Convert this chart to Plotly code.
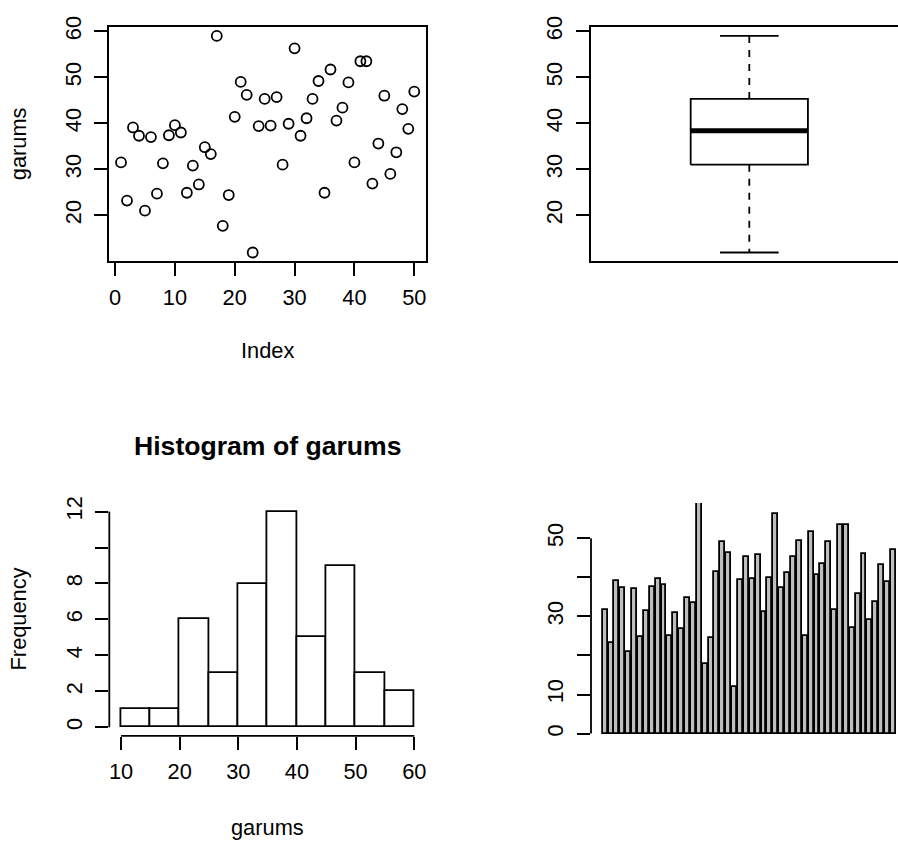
import numpy as np
import plotly.graph_objects as go

# 50 observations of garums, in index order
garums = [31.5, 23.2, 39.1, 37.3, 21.0, 37.0, 24.7, 31.3, 37.4, 39.6,
          38.0, 24.9, 30.8, 26.7, 34.8, 33.3, 59.0, 17.7, 24.4, 41.4,
          49.0, 46.2, 11.9, 39.4, 45.3, 39.5, 45.7, 31.0, 39.9, 56.3,
          37.3, 41.1, 45.3, 49.2, 24.9, 51.7, 40.6, 43.4, 48.9, 31.5,
          53.5, 53.5, 26.9, 35.6, 46.0, 29.0, 33.7, 43.1, 38.8, 46.9]
index = list(range(1, len(garums) + 1))

# axis ticks and labels
index_ticks = [0, 10, 20, 30, 40, 50]
value_ticks = [20, 30, 40, 50, 60]
hist_breaks = [10, 60, 5]  # start, end, bin width
hist_x_ticks = [10, 20, 30, 40, 50, 60]
freq_ticks = [0, 2, 4, 6, 8, 10, 12]
freq_labels = ["0", "2", "4", "6", "8", "", "12"]
bar_ticks = [0, 10, 20, 30, 40, 50]
bar_labels = ["0", "10", "", "30", "", "50"]

W, H = 898, 842
FONT = "Liberation Sans, Arial, Helvetica, sans-serif"
FS = 21.8
TITLE_FS = 26.6
LW = 1.8
TICKLEN = 13
X_STANDOFF = 3
Y_STANDOFF = 5

# plot regions in px; the right column runs past the page edge
LEFT_COL = (109.3, 426.0)
RIGHT_COL = (591.0, 907.6)
TOP_ROW = (16.5, 253.5)
BOT_ROW = (498.5, 734.5)


def xdom(col):
    l, r = col
    return [l / W, min(r, W) / W]


def ydom(row):
    t, b = row
    return [1 - b / H, 1 - t / H]


def visible(rng, col):
    """Clip a data range to the part of the column that fits on the page."""
    lo, hi = rng
    l, r = col
    frac = (min(r, W) - l) / (r - l)
    return [lo, lo + (hi - lo) * frac]


def pad(lo, hi, f=0.04):
    d = (hi - lo) * f
    return [lo - d, hi + d]


def fivenum(v):
    x = np.sort(np.asarray(v, float))
    n = len(x)
    n4 = np.floor((n + 3) / 2) / 2
    d = np.array([1, n4, (n + 1) / 2, n + 1 - n4, n])
    return 0.5 * (x[(np.floor(d) - 1).astype(int)] + x[(np.ceil(d) - 1).astype(int)])


vals = np.asarray(garums, float)
vmin, vmax = float(vals.min()), float(vals.max())
value_range = pad(vmin, vmax)

# boxplot statistics (Tukey hinges, 1.5 IQR whiskers)
_, q1, med, q3, _ = fivenum(vals)
iqr = q3 - q1
lo_whisk = float(vals[vals >= q1 - 1.5 * iqr].min())
hi_whisk = float(vals[vals <= q3 + 1.5 * iqr].max())
BOX_C, BOX_HALF, STAPLE_HALF = 1.0, 0.2, 0.1

# histogram counts (for the axis extent)
edges = np.arange(hist_breaks[0], hist_breaks[1] + hist_breaks[2], hist_breaks[2])
counts, _ = np.histogram(vals, bins=edges)

# barplot positions: width 1, space 0.2
bar_x = [1.2 * i - 0.5 for i in index]

fig = go.Figure()

# --- index plot
fig.add_trace(go.Scatter(
    x=index, y=garums, mode="markers", xaxis="x", yaxis="y",
    marker=dict(symbol="circle-open", size=10, color="black", line=dict(width=LW)),
    showlegend=False, hoverinfo="skip"))

# --- boxplot
line_k = dict(color="black", width=LW)
fig.add_trace(go.Scatter(
    x=[BOX_C - BOX_HALF, BOX_C + BOX_HALF, BOX_C + BOX_HALF, BOX_C - BOX_HALF, BOX_C - BOX_HALF],
    y=[q1, q1, q3, q3, q1], mode="lines", fill="toself", fillcolor="white",
    line=line_k, xaxis="x2", yaxis="y2", showlegend=False, hoverinfo="skip"))
fig.add_trace(go.Scatter(
    x=[BOX_C - BOX_HALF, BOX_C + BOX_HALF], y=[med, med], mode="lines",
    line=dict(color="black", width=5), xaxis="x2", yaxis="y2", showlegend=False, hoverinfo="skip"))
for a, b in [(q3, hi_whisk), (q1, lo_whisk)]:
    fig.add_trace(go.Scatter(
        x=[BOX_C, BOX_C], y=[a, b], mode="lines",
        line=dict(color="black", width=LW, dash="7px,7px"),
        xaxis="x2", yaxis="y2", showlegend=False, hoverinfo="skip"))
    fig.add_trace(go.Scatter(
        x=[BOX_C - STAPLE_HALF, BOX_C + STAPLE_HALF], y=[b, b], mode="lines",
        line=line_k, xaxis="x2", yaxis="y2", showlegend=False, hoverinfo="skip"))

# --- histogram
fig.add_trace(go.Histogram(
    x=garums, xbins=dict(start=hist_breaks[0], end=hist_breaks[1], size=hist_breaks[2]),
    marker=dict(color="white", line=dict(color="black", width=LW)),
    xaxis="x3", yaxis="y3", showlegend=False, hoverinfo="skip"))

# --- barplot
fig.add_trace(go.Bar(
    x=bar_x, y=garums, width=1.0,
    marker=dict(color="#BEBEBE", line=dict(color="black", width=LW)),
    xaxis="x4", yaxis="y4", showlegend=False, hoverinfo="skip"))

tick_font = dict(family=FONT, size=FS, color="black")
common = dict(showgrid=False, zeroline=False, ticks="outside", ticklen=TICKLEN,
              tickwidth=LW, tickcolor="black", tickfont=tick_font, fixedrange=True)
frame = dict(showline=True, linecolor="black", linewidth=LW, mirror=True)

layout = dict(
    width=W, height=H, margin=dict(l=0, r=0, t=0, b=0),
    paper_bgcolor="white", plot_bgcolor="white", bargap=0, showlegend=False,
    font=dict(family=FONT, size=FS, color="black"),
    xaxis=dict(domain=xdom(LEFT_COL), anchor="y", range=pad(1, len(garums)),
               tickmode="array", tickvals=index_ticks, ticklabelstandoff=X_STANDOFF,
               **common, **frame),
    yaxis=dict(domain=ydom(TOP_ROW), anchor="x", range=value_range, tickangle=-90,
               tickmode="array", tickvals=value_ticks, ticklabelstandoff=Y_STANDOFF,
               **common, **frame),
    xaxis2=dict(domain=xdom(RIGHT_COL), anchor="y2",
                range=visible(pad(0.5, 1.5), RIGHT_COL), showticklabels=False,
                showgrid=False, zeroline=False, ticks="", fixedrange=True, **frame),
    yaxis2=dict(domain=ydom(TOP_ROW), anchor="x2", range=value_range, tickangle=-90,
                tickmode="array", tickvals=value_ticks, ticklabelstandoff=Y_STANDOFF,
                showline=True, linecolor="black", linewidth=LW, **common),
    xaxis3=dict(domain=xdom(LEFT_COL), anchor="y3", range=pad(hist_breaks[0], hist_breaks[1]),
                tickmode="array", tickvals=hist_x_ticks, ticklabelstandoff=X_STANDOFF,
                showline=False, **common),
    yaxis3=dict(domain=ydom(BOT_ROW), anchor="x3", range=pad(0, int(counts.max())), tickangle=-90,
                tickmode="array", tickvals=freq_ticks, ticktext=freq_labels,
                ticklabelstandoff=Y_STANDOFF, showline=False, **common),
    xaxis4=dict(domain=xdom(RIGHT_COL), anchor="y4",
                range=visible(pad(0.2, 1.2 * len(garums)), RIGHT_COL),
                showticklabels=False, showgrid=False, zeroline=False, ticks="", showline=False,
                fixedrange=True),
    yaxis4=dict(domain=ydom(BOT_ROW), anchor="x4", range=[-0.01 * vmax, vmax], tickangle=-90,
                tickmode="array", tickvals=bar_ticks, ticktext=bar_labels,
                ticklabelstandoff=Y_STANDOFF, showline=False, **common),
)
fig.update_layout(**layout)

# axis lines spanning the tick range only (no frame on these panels)
axis_line = dict(color="black", width=LW)
fig.add_shape(type="line", xref="x3", yref="y3 domain", x0=hist_x_ticks[0], x1=hist_x_ticks[-1],
              y0=0, y1=0, line=axis_line)
fig.add_shape(type="line", xref="x3 domain", yref="y3", x0=0, x1=0, y0=freq_ticks[0], y1=freq_ticks[-1],
              line=axis_line)
fig.add_shape(type="line", xref="x4 domain", yref="y4", x0=0, x1=0, y0=bar_ticks[0], y1=bar_ticks[-1],
              line=axis_line)

# titles
lc = (LEFT_COL[0] + LEFT_COL[1]) / 2 / W
fig.add_annotation(text="Index", x=lc, y=1 - 344 / H, xref="paper", yref="paper",
                   showarrow=False, xanchor="center", yanchor="middle", font=dict(size=FS))
fig.add_annotation(text="garums", x=18 / W, y=1 - (TOP_ROW[0] + TOP_ROW[1]) / 2 / H,
                   xref="paper", yref="paper", showarrow=False, textangle=-90,
                   xanchor="center", yanchor="middle", font=dict(size=FS))
fig.add_annotation(text="Frequency", x=18 / W, y=1 - (BOT_ROW[0] + BOT_ROW[1]) / 2 / H,
                   xref="paper", yref="paper", showarrow=False, textangle=-90,
                   xanchor="center", yanchor="middle", font=dict(size=FS))
fig.add_annotation(text="garums", x=lc, y=1 - 827 / H, xref="paper", yref="paper",
                   showarrow=False, xanchor="center", yanchor="middle", font=dict(size=FS))
fig.add_annotation(text="<b>Histogram of garums</b>", x=lc, y=1 - 441 / H, xref="paper",
                   yref="paper", showarrow=False, xanchor="center", yanchor="middle",
                   font=dict(size=TITLE_FS))

fig.write_html("out.html")
